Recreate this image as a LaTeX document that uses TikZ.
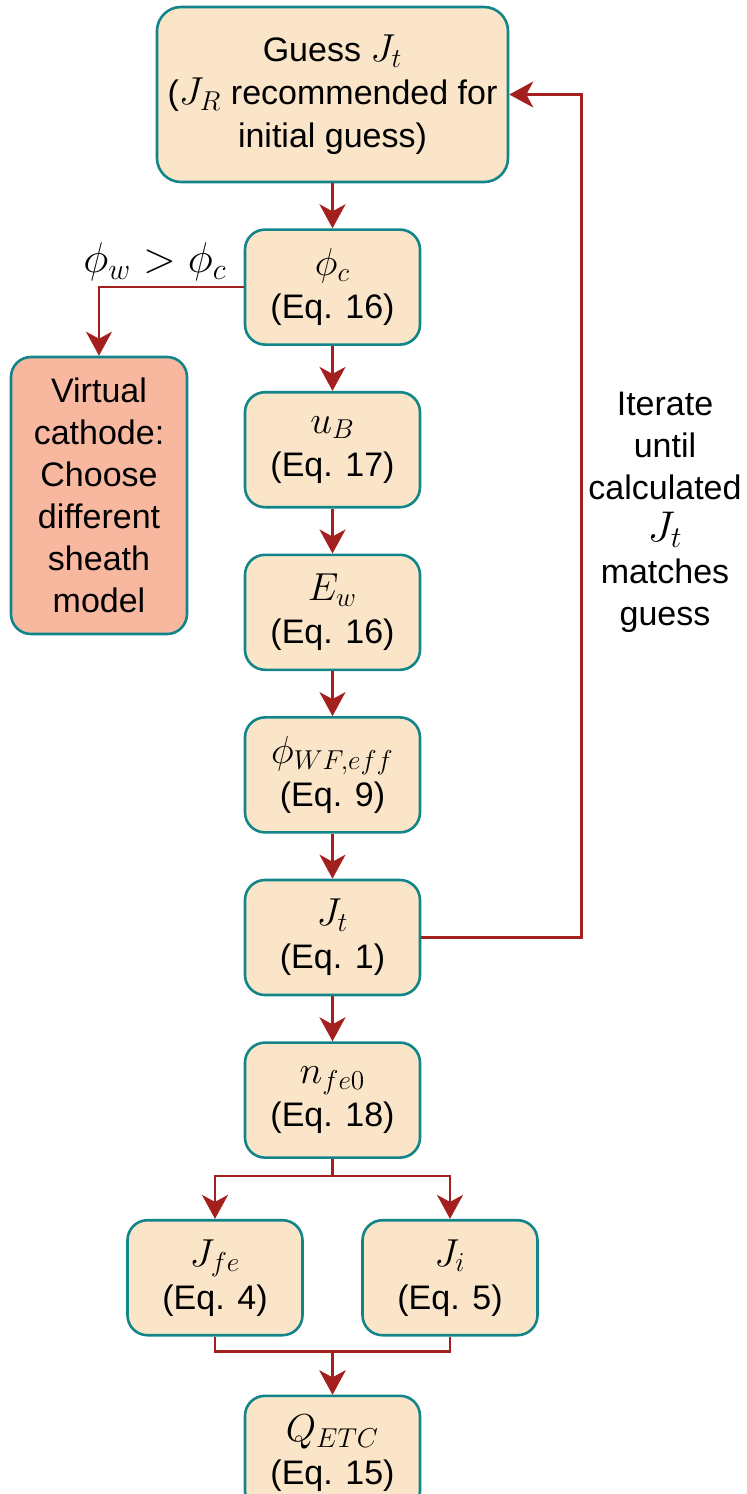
\RequirePackage{fix-cm}
\documentclass[tikz,border=0pt]{standalone}
\usepackage[no-math]{fontspec}
\setmainfont{Liberation Sans}
\usetikzlibrary{positioning,arrows.meta}
\definecolor{boxfill}{HTML}{FAE5C8}
\definecolor{boxline}{HTML}{12858A}
\definecolor{warnfill}{HTML}{F8B8A0}
\definecolor{arrowred}{HTML}{A3201F}
\newcommand{\mth}[1]{{\fontsize{19.5}{21.5}\selectfont$#1$}}
\newcommand{\bigmth}[1]{{\fontsize{21.5}{21.5}\selectfont$#1$}}
\tikzset{blk/.style={draw=boxline, fill=boxfill, line width=1.3pt, rounded corners=10pt, minimum width=87.5pt, minimum height=57.5pt, align=center, inner sep=1pt, font=\fontsize{17}{21.5}\selectfont}}
\tikzset{ln/.style={draw=arrowred, line width=1.2pt, -{Stealth[length=12pt,width=13pt,inset=3.5pt]}}}

\begin{document}
\begin{tikzpicture}[x=0.5pt,y=-0.5pt,node distance=22.5pt]
\useasboundingbox (0,0) rectangle (746,1494);
\node[blk, minimum width=175.5pt, minimum height=87.5pt, rounded corners=12pt] (guess) at (332.5,94.5) {Guess \mth{J_t}\\(\mth{J_R} recommended for\\initial guess)};
\node[blk, below=of guess] (phic) {\mth{\phi_c}\\(Eq. 16)};
\node[blk, below=of phic] (ub) {\mth{u_B}\\(Eq. 17)};
\node[blk, below=of ub] (ew) {\mth{E_w}\\(Eq. 16)};
\node[blk, below=of ew] (phiwf) {\mth{\phi_{WF,eff}}\\(Eq. 9)};
\node[blk, below=of phiwf] (jt) {\mth{J_t}\\(Eq. 1)};
\node[blk, below=of jt] (nfe) {\mth{n_{fe0}}\\(Eq. 18)};
\node[blk, below=30pt of nfe, xshift=-58.75pt] (jfe) {\mth{J_{fe}}\\(Eq. 4)};
\node[blk, below=30pt of nfe, xshift=58.75pt] (ji) {\mth{J_i}\\(Eq. 5)};
\node[blk, below=29pt of jfe, xshift=58.75pt] (qetc) {\mth{Q_{ETC}}\\(Eq. 15)};
\node[blk, fill=warnfill, minimum width=88pt, minimum height=138.5pt, font=\fontsize{17}{21}\selectfont] (virt) at (99,495.5) {Virtual\\cathode:\\Choose\\different\\sheath\\model};
\node (cond) at (155,262) {\bigmth{\phi_w > \phi_c}};
\node[align=center, font=\fontsize{17}{21}\selectfont] (iter) at (665,512) {Iterate\\until\\calculated\\\bigmth{J_t}\\matches\\guess};
% main column
\foreach \a/\b in {guess/phic,phic/ub,ub/ew,ew/phiwf,phiwf/jt,jt/nfe}
  \draw[ln] (\a) -- (\b);
% loop back and virtual cathode branch
\draw[ln] (jt.east) -- ++(160,0) |- (guess.east);
\draw[ln] (phic.west) -| (virt.north);
% split and merge
\draw[ln] (nfe.south) -- ++(0,17) -| (jfe.north);
\draw[ln] (nfe.south) -- ++(0,17) -| (ji.north);
\draw[ln] (jfe.south) -- ++(0,15) -| (qetc.north);
\draw[ln] (ji.south) -- ++(0,15) -| (qetc.north);
\end{tikzpicture}
\end{document}
